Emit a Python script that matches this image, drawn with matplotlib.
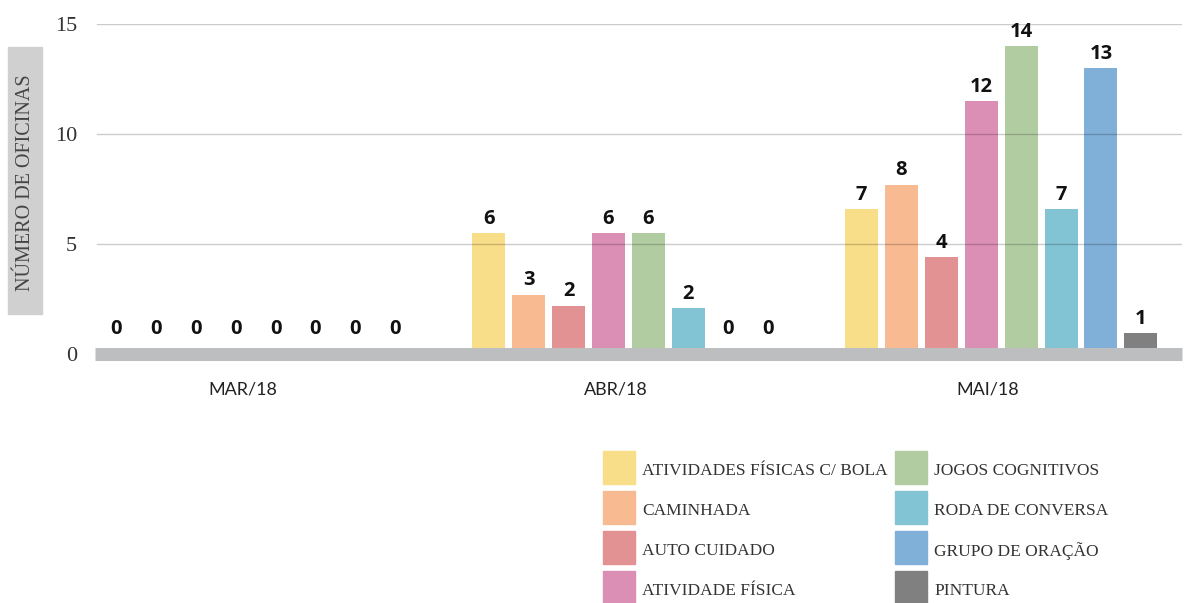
import matplotlib
matplotlib.use("Agg")
import matplotlib.pyplot as plt
from matplotlib.patches import Rectangle
import numpy as np

months = ["MAR/18", "ABR/18", "MAI/18"]
series_names = [
    "ATIVIDADES FÍSICAS C/ BOLA", "CAMINHADA", "AUTO CUIDADO", "ATIVIDADE FÍSICA",
    "JOGOS COGNITIVOS", "RODA DE CONVERSA", "GRUPO DE ORAÇÃO", "PINTURA",
]
colors = ["#F9DE89", "#F8BB91", "#E39294", "#DB8FB5",
          "#B2CCA2", "#83C4D4", "#80AFD8", "#808080"]
# values per series: [MAR, ABR, MAI]
atividades_bola = [0, 5.5, 6.6]
caminhada = [0, 2.7, 7.7]
auto_cuidado = [0, 2.2, 4.4]
atividade_fisica = [0, 5.5, 11.5]
jogos_cognitivos = [0, 5.5, 14.0]
roda_conversa = [0, 2.1, 6.6]
grupo_oracao = [0, 0, 13.0]
pintura = [0, 0, 0.95]
series = [atividades_bola, caminhada, auto_cuidado, atividade_fisica,
          jogos_cognitivos, roda_conversa, grupo_oracao, pintura]
yticks = [0, 5, 10, 15]

W, H = 1187, 603
fig = plt.figure(figsize=(W / 100, H / 100), dpi=100)
ax = fig.add_axes([95 / W, 1 - 354 / H, (1182 - 95) / W, (354 - 24) / H])

x = np.arange(len(months))
step = 0.107
width = 0.0885
for i, (name, vals, c) in enumerate(zip(series_names, series, colors)):
    pos = x + (i - 3.5) * step - 0.005
    ax.bar(pos, vals, width=width, color=c, zorder=2, label=name)
    for px, v in zip(pos, vals):
        ylab = max(v, 0.5)
        ax.annotate(str(int(v + 0.5)), (px, ylab), xytext=(0, 3), textcoords="offset points",
                    ha="center", va="bottom", fontsize=14.5, fontweight="bold",
                    family="Open Sans", color="#111111", zorder=4)

ax.set_xlim(-0.436, 2.48)
ax.set_ylim(0, 15)
ax.set_yticks(yticks)
ax.set_yticklabels([str(t) for t in yticks], family="Liberation Serif", fontsize=16, color="#333333")
ax.tick_params(axis="y", length=0, pad=13)
ax.set_xticks(x - 0.04)
ax.set_xticklabels(months, family="Lato", fontsize=13, color="#222222")
ax.tick_params(axis="x", length=0, pad=20)
for s in ax.spines.values():
    s.set_visible(False)
for t in [5, 10, 15]:
    ax.axhline(t, color=(0, 0, 0, 0.2), lw=1, zorder=3, xmin=0.002)
ax.axhline(0, color="#BDBEC0", lw=9.4, zorder=3, clip_on=False, solid_capstyle="butt")

# y label box
fig.add_artist(Rectangle((8 / W, 1 - 314 / H), 34 / W, 267 / H, transform=fig.transFigure,
                         color="#D0D0D0", zorder=0))
fig.text(26 / W, 1 - 183 / H, "NÚMERO DE OFICINAS", rotation=90, ha="center", va="center",
         family="Liberation Serif", fontsize=14.5, color="#444444")

# legend (two columns of four)
for i, (name, c) in enumerate(zip(series_names, colors)):
    col, row = divmod(i, 4)
    x0 = 603 + col * 292
    y0 = 451 + row * 40
    fig.add_artist(Rectangle((x0 / W, 1 - (y0 + 33) / H), 32 / W, 33 / H,
                             transform=fig.transFigure, color=c))
    fig.text((x0 + 39) / W, 1 - (y0 + 20) / H, name, ha="left", va="center",
             family="Liberation Serif", fontsize=12.5, color="#333333")

fig.savefig("out.png", dpi=100)
